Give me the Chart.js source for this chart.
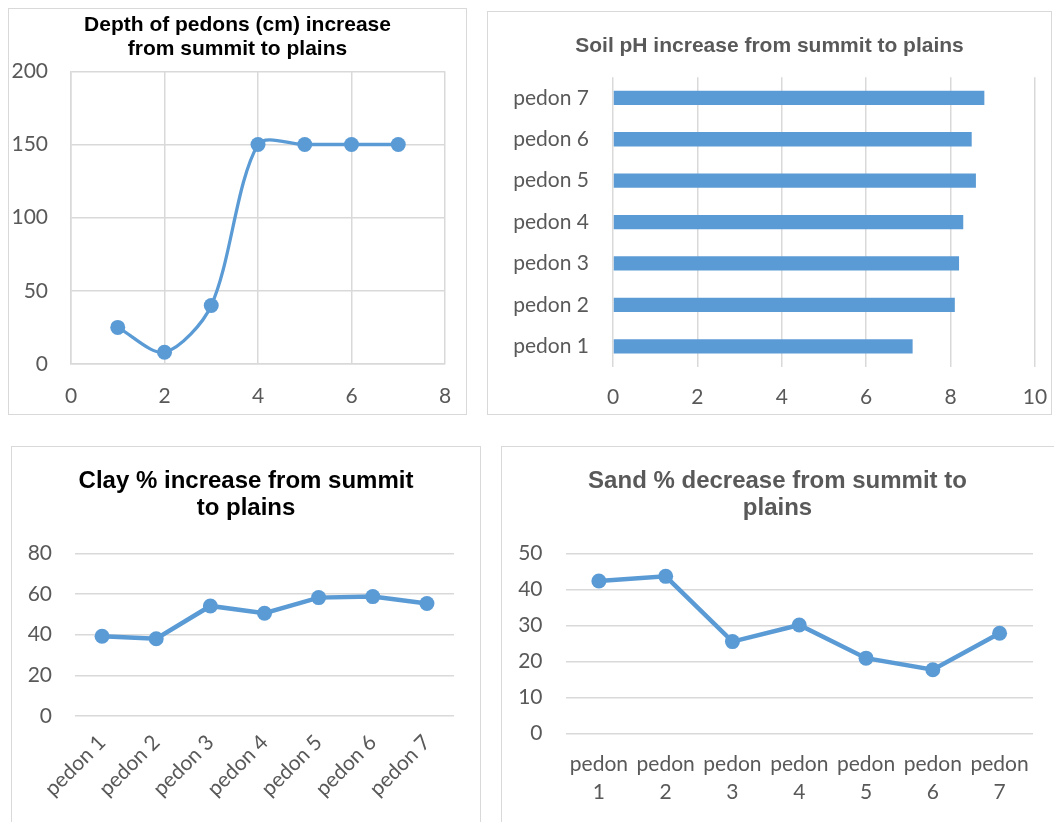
<!DOCTYPE html>
<html>
<head>
<meta charset="utf-8">
<script src="https://cdn.jsdelivr.net/npm/chart.js@4.4.1/dist/chart.umd.min.js"></script>
<style>
  html, body { margin: 0; padding: 0; background: #fff; width: 1054px; height: 822px; overflow: hidden; }
  .panel { position: absolute; box-sizing: border-box; border: 1.5px solid #d9d9d9; background: #fff; }
  .panel canvas { position: absolute; left: -1.5px; top: -1.5px; }
</style>
</head>
<body>
<div class="panel" id="p1" style="left:8px; top:8px; width:459px; height:407px;"><canvas id="c1" width="459" height="407"></canvas></div>
<div class="panel" id="p2" style="left:487px; top:11px; width:565px; height:404px;"><canvas id="c2" width="565" height="404"></canvas></div>
<div class="panel" id="p3" style="left:11px; top:446px; width:470px; height:390px;"><canvas id="c3" width="470" height="376"></canvas></div>
<div class="panel" id="p4" style="left:501px; top:446px; width:560px; height:390px;"><canvas id="c4" width="553" height="376"></canvas></div>
<script>
// ---- data ----
const depthX = [1, 2, 3, 4, 5, 6, 7];
const depthCm = [25, 8, 40, 150, 150, 150, 150];
const pedons = ["pedon 1", "pedon 2", "pedon 3", "pedon 4", "pedon 5", "pedon 6", "pedon 7"];
const soilPH = [7.1, 8.1, 8.2, 8.3, 8.6, 8.5, 8.8];
const clayPct = [39.2, 38.0, 54.1, 50.5, 58.2, 58.7, 55.3];
const sandPct = [42.3, 43.6, 25.5, 30.1, 20.9, 17.7, 27.8];
const sandLabels = [["pedon", "1"], ["pedon", "2"], ["pedon", "3"], ["pedon", "4"], ["pedon", "5"], ["pedon", "6"], ["pedon", "7"]];

const titles = {
  depth: ["Depth of pedons (cm) increase", "from summit to plains"],
  ph: "Soil pH increase from summit to plains",
  clay: ["Clay % increase from summit", "to plains"],
  sand: ["Sand % decrease from summit to", "plains"]
};

// ---- styles ----
const BLUE = "#5b9bd5";
const GRID = "#d9d9d9";
const TXT = "#595959";
const TICKFONT = { family: "Lato, 'Liberation Sans', sans-serif", size: 21 };
const TITLEFAMILY = "'Liberation Sans', Arial, sans-serif";

Chart.defaults.animation = false;
Chart.defaults.responsive = false;
Chart.defaults.plugins.legend.display = false;
Chart.defaults.plugins.tooltip.enabled = false;
Chart.defaults.color = TXT;

// fix the size of an axis band and the side room it asks for
function fixX(h, right) { return (s) => { s.height = h; s.paddingLeft = 0; s.paddingRight = right; }; }
function fixY(w) { return (s) => { s.width = w; s.paddingTop = 0; s.paddingBottom = 0; }; }

// Chart 1: depth (scatter with smooth line)
new Chart(document.getElementById("c1"), {
  type: "scatter",
  data: {
    datasets: [{
      data: depthX.map((x, i) => ({ x: x, y: depthCm[i] })),
      showLine: true,
      borderColor: BLUE,
      backgroundColor: BLUE,
      borderWidth: 3.3,
      pointRadius: 7.5,
      pointBorderWidth: 0,
      tension: 0.3
    }]
  },
  options: {
    layout: { padding: 0 },
    plugins: {
      title: {
        display: true, text: titles.depth, color: "#000",
        font: { family: TITLEFAMILY, size: 21, weight: "bold", lineHeight: 1.15 },
        padding: { top: 5, bottom: 10 }
      }
    },
    scales: {
      x: {
        type: "linear", min: 0, max: 8,
        ticks: { stepSize: 2, font: TICKFONT, color: TXT, padding: 20 },
        grid: { color: GRID, lineWidth: 1.5, drawTicks: false },
        border: { color: GRID, width: 1.5 },
        afterFit: fixX(51, 22)
      },
      y: {
        min: 0, max: 200,
        ticks: { stepSize: 50, font: TICKFONT, color: TXT, padding: 23 },
        grid: { color: GRID, lineWidth: 1.5, drawTicks: false },
        border: { color: GRID, width: 1.5 },
        afterFit: fixY(63)
      }
    }
  }
});

// Chart 2: pH horizontal bars
new Chart(document.getElementById("c2"), {
  type: "bar",
  data: {
    labels: pedons,
    datasets: [{ data: soilPH, backgroundColor: BLUE, barPercentage: 0.345, categoryPercentage: 1 }]
  },
  options: {
    indexAxis: "y",
    layout: { padding: 0 },
    plugins: {
      title: {
        display: true, text: titles.ph, color: TXT,
        font: { family: TITLEFAMILY, size: 21, weight: "bold", lineHeight: 1.15 },
        padding: { top: 23, bottom: 19 }
      }
    },
    scales: {
      x: {
        min: 0, max: 10,
        ticks: { stepSize: 2, font: TICKFONT, color: TXT, padding: 18 },
        grid: { color: GRID, lineWidth: 1.5, drawTicks: false },
        border: { display: false },
        afterFit: fixX(48, 17)
      },
      y: {
        reverse: true,
        ticks: { font: TICKFONT, color: TXT, padding: 24 },
        grid: { display: false, drawTicks: false },
        border: { display: false },
        afterFit: fixY(126)
      }
    }
  }
});

// Chart 3: clay line
new Chart(document.getElementById("c3"), {
  type: "line",
  data: {
    labels: pedons,
    datasets: [{
      data: clayPct, borderColor: BLUE, backgroundColor: BLUE,
      borderWidth: 4.5, pointRadius: 7.5, pointBorderWidth: 0, tension: 0
    }]
  },
  options: {
    layout: { padding: 0 },
    plugins: {
      title: {
        display: true, text: titles.clay, color: "#000",
        font: { family: TITLEFAMILY, size: 24, weight: "bold", lineHeight: 1.11 },
        padding: { top: 22, bottom: 32 }
      }
    },
    scales: {
      x: {
        offset: true,
        ticks: { font: TICKFONT, color: TXT, padding: 14, autoSkip: false, minRotation: 45, maxRotation: 45 },
        grid: { display: false, drawTicks: false },
        border: { display: false },
        afterFit: fixX(106, 27)
      },
      y: {
        min: 0, max: 80,
        ticks: { stepSize: 20, font: TICKFONT, color: TXT, padding: 23 },
        grid: { color: GRID, lineWidth: 1.5, drawTicks: false },
        border: { display: false },
        afterFit: fixY(64)
      }
    }
  }
});

// Chart 4: sand line
new Chart(document.getElementById("c4"), {
  type: "line",
  data: {
    labels: sandLabels,
    datasets: [{
      data: sandPct, borderColor: BLUE, backgroundColor: BLUE,
      borderWidth: 4.5, pointRadius: 7.5, pointBorderWidth: 0, tension: 0
    }]
  },
  options: {
    layout: { padding: 0 },
    plugins: {
      title: {
        display: true, text: titles.sand, color: TXT,
        font: { family: TITLEFAMILY, size: 24, weight: "bold", lineHeight: 1.11 },
        padding: { top: 22, bottom: 32 }
      }
    },
    scales: {
      x: {
        offset: true,
        ticks: { font: Object.assign({}, TICKFONT, { lineHeight: 1.33 }), color: TXT, padding: 17, autoSkip: false, maxRotation: 0, minRotation: 0 },
        grid: { display: false, drawTicks: false },
        border: { display: false },
        afterFit: fixX(88.5, 21)
      },
      y: {
        min: 0, max: 50,
        ticks: { stepSize: 10, font: TICKFONT, color: TXT, padding: 23 },
        grid: { color: GRID, lineWidth: 1.5, drawTicks: false },
        border: { display: false },
        afterFit: fixY(64.5)
      }
    }
  }
});
</script>
</body>
</html>
